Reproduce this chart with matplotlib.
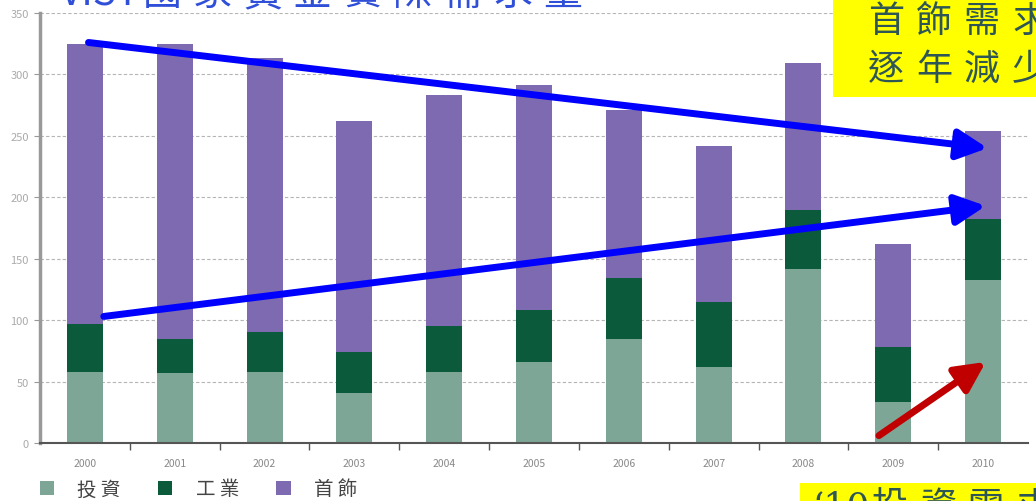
import matplotlib
matplotlib.use("Agg")
import matplotlib.pyplot as plt
from matplotlib.patches import Rectangle, Patch
import numpy as np

plt.rcParams['font.family'] = ['Noto Sans CJK TC', 'DejaVu Sans']

# VIST gold demand by sector (tonnes)
years = ['2000', '2001', '2002', '2003', '2004', '2005',
         '2006', '2007', '2008', '2009', '2010']
investment = [58, 57, 58, 41, 58, 66, 85, 62, 142, 33, 133]
industrial = [39, 28, 32, 33, 37, 42, 49, 53, 48, 45, 49]
jewellery = [228, 240, 223, 188, 188, 183, 137, 127, 119, 84, 72]
series_names = ['投 資', '工 業', '首 飾']
yticks = [0, 50, 100, 150, 200, 250, 300, 350]

# trend arrows (start, end) in data coordinates
jewellery_trend = [(0.04, 326), (10.05, 240)]
industrial_trend = [(0.21, 103), (10.03, 193)]
investment_trend = [(8.84, 6), (10.03, 66)]

W, H = 1036, 502
fig = plt.figure(figsize=(W / 100, H / 100), dpi=100)
fig.patch.set_facecolor('white')


def fx(x):
    return x / W


def fy(y):
    return 1 - y / H


ax = fig.add_axes([fx(40), fy(444), fx(1028) - fx(40), fy(14) - fy(444)])

c_inv, c_ind, c_jew = '#7ea696', '#0b5a3b', '#7d6ab0'
x = np.arange(len(years))
inv = np.array(investment)
ind = np.array(industrial)
jew = np.array(jewellery)
bw = 0.4
ax.bar(x, inv, bw, color=c_inv, zorder=2)
ax.bar(x, ind, bw, bottom=inv, color=c_ind, zorder=2)
ax.bar(x, jew, bw, bottom=inv + ind, color=c_jew, zorder=2)

ax.set_xlim(-0.5, len(years) - 0.5)
ax.set_ylim(0, 350)
ax.set_yticks(yticks)
ax.yaxis.grid(True, color='#b5b5b5', linestyle=(0, (3, 2)), linewidth=0.8, zorder=0)
ax.set_axisbelow(True)
ax.set_xticks(x)
ax.set_xticklabels(years)
ax.set_xticks(x[:-1] + 0.5, minor=True)
ax.tick_params(axis='x', which='major', length=0, colors='#888888', labelsize=7.5, pad=11)
ax.tick_params(axis='x', which='minor', length=5, color='#555555', width=1)
ax.tick_params(axis='y', length=4, color='#999999', colors='#aaaaaa', labelsize=8, pad=4)
for side in ('top', 'right'):
    ax.spines[side].set_visible(False)
ax.spines['left'].set_color('#999999')
ax.spines['left'].set_linewidth(2.5)
ax.spines['bottom'].set_color('#555555')
ax.spines['bottom'].set_linewidth(1.5)

for (p0, p1), col in ((jewellery_trend, '#0000ff'),
                      (industrial_trend, '#0000ff'),
                      (investment_trend, '#c00000')):
    ax.annotate('', xy=p1, xytext=p0, annotation_clip=False,
                arrowprops=dict(arrowstyle='-|>,head_length=0.9,head_width=0.45',
                                color=col, lw=5, shrinkA=0, shrinkB=0,
                                mutation_scale=20),
                zorder=5)


def spaced_text(s, x0, yc, pitch, size, color):
    for i, ch in enumerate(s):
        fig.text(fx(x0 + i * pitch), fy(yc), ch, fontsize=size, color=color,
                 ha='left', va='center')


# title across the top edge
fig.text(fx(60), fy(-6), 'VIST', fontsize=28, color='#2f4fd8', ha='left', va='center')
spaced_text('國家黃金實際需求量', 143, -6, 50, 28, '#2f4fd8')

# callout boxes
fig.add_artist(Rectangle((fx(833), fy(98)), fx(W) - fx(833), fy(0) - fy(98),
                         transform=fig.transFigure, facecolor='#ffff00',
                         edgecolor='none', zorder=3))
spaced_text('首飾需求', 868, 22, 48, 26, '#2e5656')
spaced_text('逐年減少', 868, 70, 48, 26, '#2e5656')

fig.add_artist(Rectangle((fx(800), fy(H)), fx(W) - fx(800), fy(484) - fy(H),
                         transform=fig.transFigure, facecolor='#ffff00',
                         edgecolor='none', zorder=3))
fig.text(fx(812), fy(508), '‘10', fontsize=26, color='#2e5656', ha='left', va='center',
         family=['DejaVu Serif'])
spaced_text('投資需求', 872, 508, 48, 26, '#2e5656')

handles = [Patch(facecolor=c, edgecolor='none') for c in (c_inv, c_ind, c_jew)]
fig.legend(handles, series_names, loc='center left', bbox_to_anchor=(fx(22), fy(490)),
           ncol=3, frameon=False, fontsize=14, labelcolor='#444444',
           handlelength=0.75, handleheight=0.75, handletextpad=1.2, columnspacing=1.9)

fig.savefig('out.png', dpi=100)
